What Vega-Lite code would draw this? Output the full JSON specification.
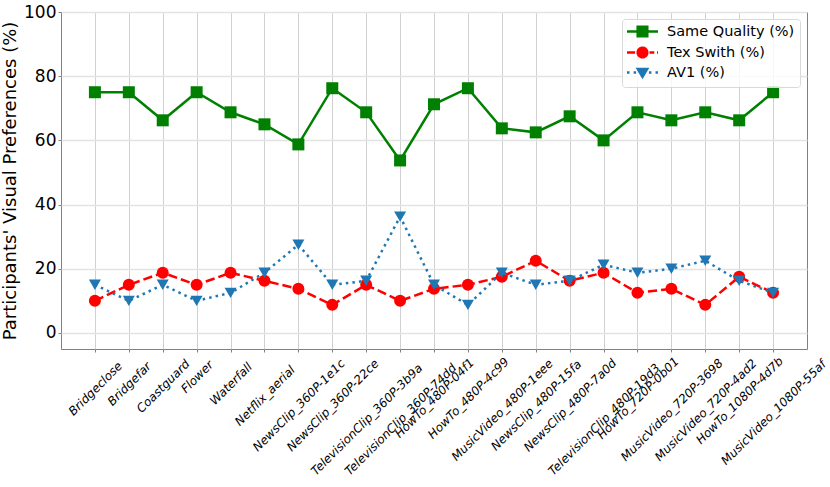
{
  "$schema": "https://vega.github.io/schema/vega-lite/v6.json",
  "width": 746,
  "height": 337,
  "autosize": "none",
  "padding": {"left": 61, "top": 12, "right": 23, "bottom": 138},
  "background": "white",
  "config": {
    "font": "DejaVu Sans",
    "view": {"stroke": "#808080", "strokeWidth": 1}
  },
  "data": {
    "values": [
      {"video": "Bridgeclose", "series": "Same Quality (%)", "value": 75},
      {"video": "Bridgeclose", "series": "Tex Swith (%)", "value": 10},
      {"video": "Bridgeclose", "series": "AV1 (%)", "value": 15},
      {"video": "Bridgefar", "series": "Same Quality (%)", "value": 75},
      {"video": "Bridgefar", "series": "Tex Swith (%)", "value": 15},
      {"video": "Bridgefar", "series": "AV1 (%)", "value": 10},
      {"video": "Coastguard", "series": "Same Quality (%)", "value": 66.25},
      {"video": "Coastguard", "series": "Tex Swith (%)", "value": 18.75},
      {"video": "Coastguard", "series": "AV1 (%)", "value": 15},
      {"video": "Flower", "series": "Same Quality (%)", "value": 75},
      {"video": "Flower", "series": "Tex Swith (%)", "value": 15},
      {"video": "Flower", "series": "AV1 (%)", "value": 10},
      {"video": "Waterfall", "series": "Same Quality (%)", "value": 68.75},
      {"video": "Waterfall", "series": "Tex Swith (%)", "value": 18.75},
      {"video": "Waterfall", "series": "AV1 (%)", "value": 12.5},
      {"video": "Netflix_aerial", "series": "Same Quality (%)", "value": 65},
      {"video": "Netflix_aerial", "series": "Tex Swith (%)", "value": 16.25},
      {"video": "Netflix_aerial", "series": "AV1 (%)", "value": 18.75},
      {"video": "NewsClip_360P-1e1c", "series": "Same Quality (%)", "value": 58.75},
      {"video": "NewsClip_360P-1e1c", "series": "Tex Swith (%)", "value": 13.75},
      {"video": "NewsClip_360P-1e1c", "series": "AV1 (%)", "value": 27.5},
      {"video": "NewsClip_360P-22ce", "series": "Same Quality (%)", "value": 76.25},
      {"video": "NewsClip_360P-22ce", "series": "Tex Swith (%)", "value": 8.75},
      {"video": "NewsClip_360P-22ce", "series": "AV1 (%)", "value": 15},
      {"video": "TelevisionClip_360P-3b9a", "series": "Same Quality (%)", "value": 68.75},
      {"video": "TelevisionClip_360P-3b9a", "series": "Tex Swith (%)", "value": 15},
      {"video": "TelevisionClip_360P-3b9a", "series": "AV1 (%)", "value": 16.25},
      {"video": "TelevisionClip_360P-74dd", "series": "Same Quality (%)", "value": 53.75},
      {"video": "TelevisionClip_360P-74dd", "series": "Tex Swith (%)", "value": 10},
      {"video": "TelevisionClip_360P-74dd", "series": "AV1 (%)", "value": 36.25},
      {"video": "HowTo_480P-04f1", "series": "Same Quality (%)", "value": 71.25},
      {"video": "HowTo_480P-04f1", "series": "Tex Swith (%)", "value": 13.75},
      {"video": "HowTo_480P-04f1", "series": "AV1 (%)", "value": 15},
      {"video": "HowTo_480P-4c99", "series": "Same Quality (%)", "value": 76.25},
      {"video": "HowTo_480P-4c99", "series": "Tex Swith (%)", "value": 15},
      {"video": "HowTo_480P-4c99", "series": "AV1 (%)", "value": 8.75},
      {"video": "MusicVideo_480P-1eee", "series": "Same Quality (%)", "value": 63.75},
      {"video": "MusicVideo_480P-1eee", "series": "Tex Swith (%)", "value": 17.5},
      {"video": "MusicVideo_480P-1eee", "series": "AV1 (%)", "value": 18.75},
      {"video": "NewsClip_480P-15fa", "series": "Same Quality (%)", "value": 62.5},
      {"video": "NewsClip_480P-15fa", "series": "Tex Swith (%)", "value": 22.5},
      {"video": "NewsClip_480P-15fa", "series": "AV1 (%)", "value": 15},
      {"video": "NewsClip_480P-7a0d", "series": "Same Quality (%)", "value": 67.5},
      {"video": "NewsClip_480P-7a0d", "series": "Tex Swith (%)", "value": 16.25},
      {"video": "NewsClip_480P-7a0d", "series": "AV1 (%)", "value": 16.25},
      {"video": "TelevisionClip_480P-19d3", "series": "Same Quality (%)", "value": 60},
      {"video": "TelevisionClip_480P-19d3", "series": "Tex Swith (%)", "value": 18.75},
      {"video": "TelevisionClip_480P-19d3", "series": "AV1 (%)", "value": 21.25},
      {"video": "HowTo_720P-0b01", "series": "Same Quality (%)", "value": 68.75},
      {"video": "HowTo_720P-0b01", "series": "Tex Swith (%)", "value": 12.5},
      {"video": "HowTo_720P-0b01", "series": "AV1 (%)", "value": 18.75},
      {"video": "MusicVideo_720P-3698", "series": "Same Quality (%)", "value": 66.25},
      {"video": "MusicVideo_720P-3698", "series": "Tex Swith (%)", "value": 13.75},
      {"video": "MusicVideo_720P-3698", "series": "AV1 (%)", "value": 20},
      {"video": "MusicVideo_720P-4ad2", "series": "Same Quality (%)", "value": 68.75},
      {"video": "MusicVideo_720P-4ad2", "series": "Tex Swith (%)", "value": 8.75},
      {"video": "MusicVideo_720P-4ad2", "series": "AV1 (%)", "value": 22.5},
      {"video": "HowTo_1080P-4d7b", "series": "Same Quality (%)", "value": 66.25},
      {"video": "HowTo_1080P-4d7b", "series": "Tex Swith (%)", "value": 17.5},
      {"video": "HowTo_1080P-4d7b", "series": "AV1 (%)", "value": 16.25},
      {"video": "MusicVideo_1080P-55af", "series": "Same Quality (%)", "value": 75},
      {"video": "MusicVideo_1080P-55af", "series": "Tex Swith (%)", "value": 12.5},
      {"video": "MusicVideo_1080P-55af", "series": "AV1 (%)", "value": 12.5}
    ]
  },
  "encoding": {
    "x": {
      "field": "video",
      "type": "nominal",
      "sort": null,
      "scale": {"type": "point", "padding": 1},
      "axis": {
        "title": null,
        "grid": true,
        "gridColor": "#d0d0d0",
        "gridWidth": 1,
        "domain": false,
        "tickSize": 3,
        "tickColor": "#808080",
        "labelAngle": -45,
        "labelAlign": "center",
        "labelBaseline": "middle",
        "labelFont": "DejaVu Sans",
        "labelFontSize": 12,
        "labelFontStyle": "italic",
        "labelColor": "black",
        "labelOverlap": false,
        "labelLimit": 0,
        "labelPadding": {"expr": "10 + 2.376 * length(datum.label)"}
      }
    },
    "y": {
      "field": "value",
      "type": "quantitative",
      "scale": {"domain": [-5, 100], "nice": false, "zero": false},
      "axis": {
        "title": "Participants' Visual Preferences (%)",
        "titleFont": "DejaVu Sans",
        "titleFontSize": 18,
        "titleFontWeight": "normal",
        "titleColor": "black",
        "titlePadding": 4,
        "values": [0, 20, 40, 60, 80, 100],
        "grid": true,
        "gridColor": "#e3e3e3",
        "gridWidth": 1.5,
        "domain": false,
        "tickSize": 3,
        "tickColor": "#808080",
        "labelFont": "DejaVu Sans",
        "labelFontSize": 17,
        "labelColor": "black",
        "labelPadding": 2
      }
    },
    "color": {
      "field": "series",
      "type": "nominal",
      "scale": {
        "domain": ["Same Quality (%)", "Tex Swith (%)", "AV1 (%)"],
        "range": ["#008000", "#ff0000", "#1f77b4"]
      },
      "legend": {
        "title": null,
        "orient": "top-right",
        "offset": 7,
        "padding": 5,
        "fillColor": "rgba(255,255,255,0.8)",
        "strokeColor": "#d9d9d9",
        "cornerRadius": 3,
        "labelFont": "DejaVu Sans",
        "labelFontSize": 14.5,
        "labelColor": "black",
        "labelOffset": 25,
        "labelLimit": 0,
        "symbolSize": 144,
        "symbolStrokeWidth": 2.5,
        "rowPadding": 0,
        "encode": {
          "symbols": {
            "update": {
              "shape": {"signal": "datum.value == 'Same Quality (%)' ? 'M-1.25,0H3.92M0.53,-0.8H2.13V0.8H0.53Z' : datum.value == 'Tex Swith (%)' ? 'M-1.25,0H0.1M2.5,0H3.3M3.75,0H3.92M0.53,0A0.8,0.8,0,1,1,2.13,0A0.8,0.8,0,1,1,0.53,0Z' : 'M-1.25,0H-0.83M-0.15,0H0.27M2.4,0H2.82M3.5,0H3.92M0.54,-0.6H2.12L1.33,0.73Z'"},
              "fill": {"signal": "datum.value == 'Same Quality (%)' ? '#008000' : datum.value == 'Tex Swith (%)' ? '#ff0000' : '#1f77b4'"},
              "stroke": {"signal": "datum.value == 'Same Quality (%)' ? '#008000' : datum.value == 'Tex Swith (%)' ? '#ff0000' : '#1f77b4'"},
              "strokeDash": {"value": [1, 0]},
              "opacity": {"value": 1},
              "fillOpacity": {"value": 1},
              "strokeOpacity": {"value": 1}
            }
          }
        }
      }
    }
  },
  "layer": [
    {
      "transform": [{"filter": "datum.series == 'Same Quality (%)'"}],
      "mark": {"type": "line", "strokeWidth": 2.5}
    },
    {
      "transform": [{"filter": "datum.series == 'Same Quality (%)'"}],
      "mark": {"type": "point", "shape": "square", "size": 144, "filled": true, "opacity": 1, "strokeWidth": 0}
    },
    {
      "transform": [{"filter": "datum.series == 'Tex Swith (%)'"}],
      "mark": {"type": "line", "strokeWidth": 2.5, "strokeDash": [9.25, 4]}
    },
    {
      "transform": [{"filter": "datum.series == 'Tex Swith (%)'"}],
      "mark": {"type": "point", "shape": "circle", "size": 144, "filled": true, "opacity": 1, "strokeWidth": 0}
    },
    {
      "transform": [{"filter": "datum.series == 'AV1 (%)'"}],
      "mark": {"type": "line", "strokeWidth": 2.5, "strokeDash": [2.5, 4.1]}
    },
    {
      "transform": [{"filter": "datum.series == 'AV1 (%)'"}],
      "mark": {"type": "point", "shape": "triangle-down", "size": 144, "filled": true, "opacity": 1, "strokeWidth": 0}
    }
  ]
}
